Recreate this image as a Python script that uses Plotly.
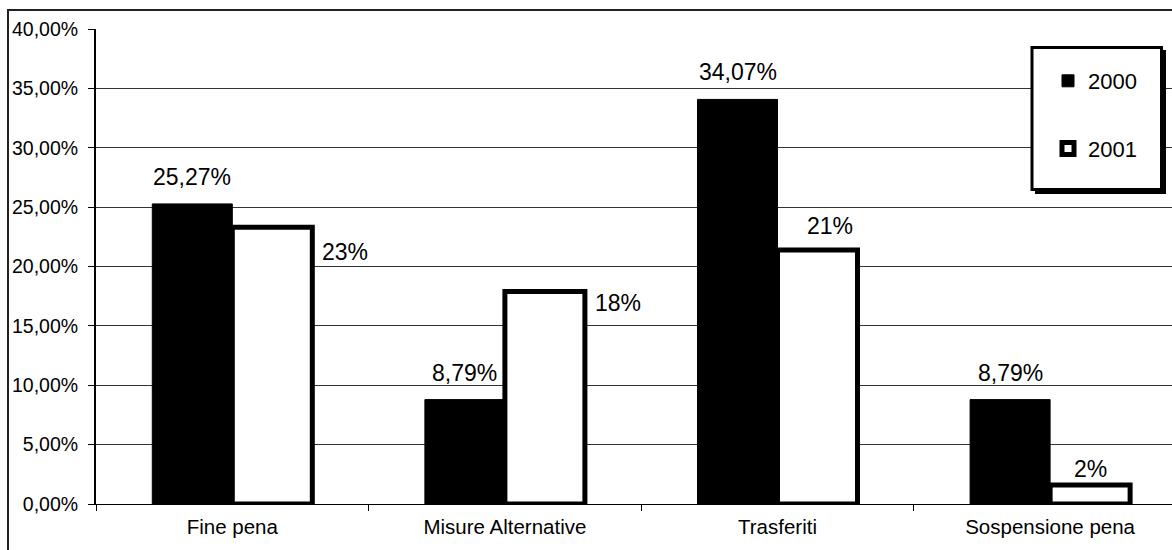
import plotly.graph_objects as go

categories = ["Fine pena", "Misure Alternative", "Trasferiti", "Sospensione pena"]
values_2000 = [25.27, 8.79, 34.07, 8.79]
values_2001 = [23.3, 17.9, 21.4, 1.6]
series_names = ["2000", "2001"]
y_ticks = [0, 5, 10, 15, 20, 25, 30, 35, 40]

W, H = 1172, 550
ML, MR, MT, MB = 96, 0, 29, 46
PW, PH = W - ML - MR, H - MT - MB
FONT = "Liberation Sans, Arial, sans-serif"
BARGAP = 0.413


def px(x):
    return (x - ML) / PW


def py(y):
    return (H - MB - y) / PH


def it_fmt(v):
    return f"{v:.2f}".replace(".", ",") + "%"


fig = go.Figure()
fig.add_trace(go.Bar(
    x=categories, y=values_2000, name=series_names[0],
    marker=dict(color="black", line=dict(color="black", width=1)),
    legendgroup="a",
))
fig.add_trace(go.Bar(
    x=categories, y=values_2001, name=series_names[1],
    marker=dict(color="white", line=dict(color="black", width=5)),
    legendgroup="b", cliponaxis=False,
))

half = (1 - BARGAP) / 4
annotations = []
for i, v in enumerate(values_2000):
    annotations.append(dict(x=i - half, y=v, xref="x", yref="y", text=it_fmt(v),
                            showarrow=False, yshift=27, yanchor="middle",
                            font=dict(size=23, color="black", family=FONT)))
# label offsets (dx, dy in px) for the 2001 series
offs_2001 = [(73, -25), (73, -12), (12, 24), (0, 16)]
for i, v in enumerate(values_2001):
    dx, dy = offs_2001[i]
    annotations.append(dict(x=i + half, y=v, xref="x", yref="y", text=f"{v:.0f}%",
                            showarrow=False, xshift=dx, yshift=dy, yanchor="middle",
                            font=dict(size=23, color="black", family=FONT)))

shapes = [
    # outer chart border
    dict(type="rect", xref="paper", yref="paper", x0=px(8), y0=py(10), x1=px(1200), y1=py(580),
         line=dict(color="#222", width=2), fillcolor="rgba(0,0,0,0)", layer="above"),
    # legend shadow
    dict(type="rect", xref="paper", yref="paper", x0=px(1035), y0=py(50), x1=px(1166), y1=py(194),
         line=dict(width=0), fillcolor="black", layer="above"),
    # legend box
    dict(type="rect", xref="paper", yref="paper", x0=px(1032), y0=py(47.5), x1=px(1161.5), y1=py(189.5),
         line=dict(color="black", width=3), fillcolor="white", layer="above"),
]

fig.update_layout(
    width=W, height=H,
    margin=dict(l=ML, r=MR, t=MT, b=MB),
    paper_bgcolor="white", plot_bgcolor="white",
    barmode="group", bargap=BARGAP, bargroupgap=0,
    font=dict(family=FONT, size=19, color="black"),
    showlegend=True,
    legend=dict(x=px(1048), y=py(60), xanchor="left", yanchor="top",
                bgcolor="rgba(0,0,0,0)", borderwidth=0,
                font=dict(size=22, family=FONT, color="black"),
                traceorder="grouped", tracegroupgap=36),
    annotations=annotations,
    shapes=shapes,
    xaxis=dict(type="category", range=[-0.5, -0.5 + PW / 272.6],
               tickson="boundaries", ticks="outside", ticklen=6, tickcolor="black",
               showline=True, linecolor="black", linewidth=1,
               showgrid=False, tickfont=dict(size=20.5, family=FONT),
               ticklabelstandoff=4),
    yaxis=dict(range=[0, 40], tickvals=y_ticks, ticktext=[it_fmt(v) for v in y_ticks],
               ticks="outside", ticklen=6, tickcolor="black",
               showline=True, linecolor="black", linewidth=2,
               showgrid=True, gridcolor="#333", gridwidth=1,
               zeroline=False, tickfont=dict(size=19.5, family=FONT),
               ticklabelstandoff=6),
)

fig.write_html("out.html")
